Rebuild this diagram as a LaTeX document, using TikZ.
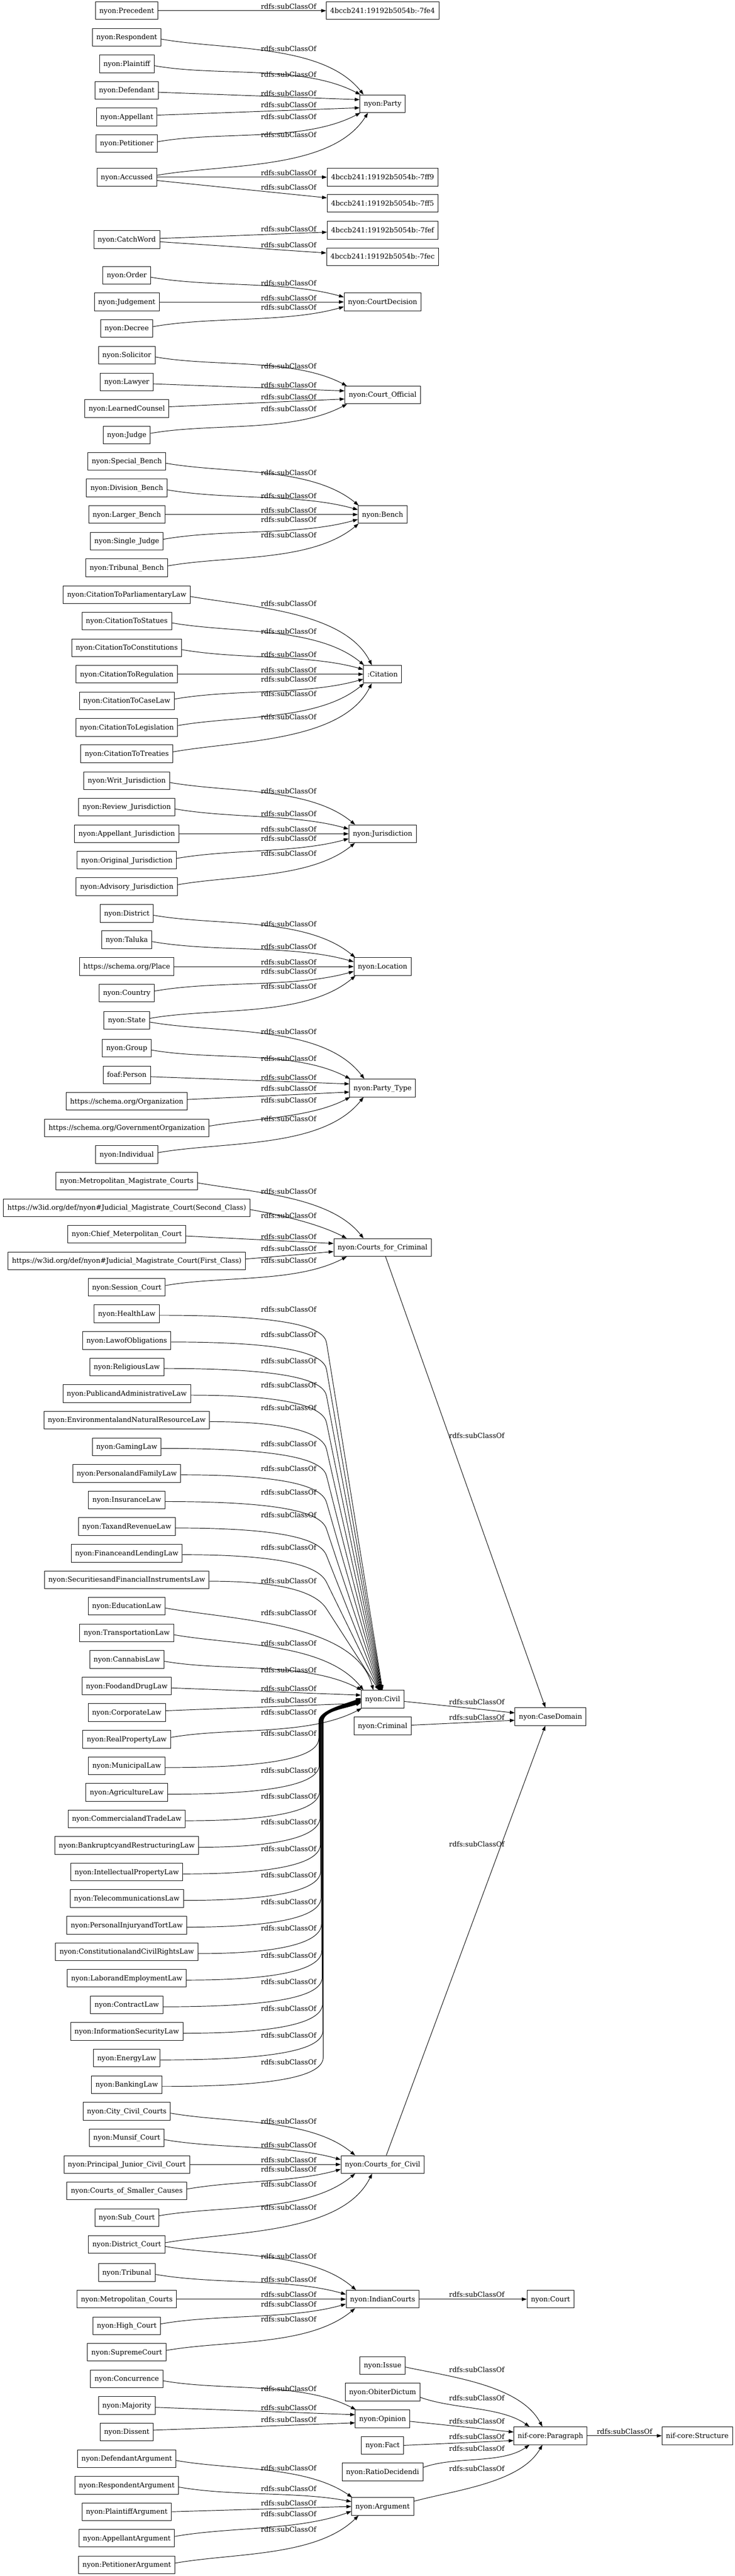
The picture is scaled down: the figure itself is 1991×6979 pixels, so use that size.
\documentclass[tikz,border=0pt]{standalone}
\usepackage{fontspec}
\setmainfont{DejaVu Serif}
\usetikzlibrary{arrows.meta,calc}
\newcommand\bodyfont{\fontsize{18.67}{22}\selectfont}
\tikzset{
  gbox/.style={draw,line width=1.33pt,rectangle,minimum height=48pt,minimum width=72pt,inner xsep=10.6pt,inner ysep=0pt,text height=14pt,text depth=2pt,font=\bodyfont},
  lbl/.style={inner sep=0pt,text height=14pt,text depth=2pt,font=\bodyfont},
  sarrow/.style={line width=1.33pt,-{Triangle[length=13.3pt,width=9.3pt]}},
}
% generic edge from left column to middle column
\newcommand\sedge[4]{%
  \pgfmathsetmacro\zA{abs(#3)}%
  \pgfmathsetmacro\zT{min(0.33*\zA-8,80)}%
  \pgfmathsetmacro\zIn{180-((#3>0)-(#3<0))*\zT}%
  \pgfmathsetmacro\zOut{10*(#3<0)-10*(#3>0)}%
  \pgfmathsetmacro\zF{max(97-(\zA-108)*0.63,25)}%
  \pgfmathsetmacro\zSo{5*(#3<0)-5*(#3>0)}%
  \pgfmathsetmacro\zEo{11*(#3>0)-11*(#3<0)}%
  \pgfmathsetmacro\zEm{13*(#3>0)-13*(#3<0)}%
  \ifdim\zA pt<20pt
    \draw[sarrow] (#1.east) -- (#2.west);
  \else\ifdim\zA pt<50pt
    \draw[sarrow] ($(#1.east)+(0,\zSo)$) -- ($(#2.west)+(0,\zEo)$);
  \else\ifdim\zA pt<95pt
    \draw[sarrow] ($(#1.east)+(0,\zSo)$) to[out=\zOut,in=\zIn,looseness=0.8] ($(#2.west)+(0,\zEm)$);
  \else
    \ifdim #3pt>0pt \def\zC{north west}\def\zD{north}\else\def\zC{south west}\def\zD{south}\fi
    \pgfpointanchor{#2}{\zC}\pgfgetlastxy{\zXa}{\zYa}%
    \pgfpointanchor{#2}{\zD}\pgfgetlastxy{\zXb}{\zYb}%
    \pgfmathsetmacro\zEx{max(\zXa+2,\zXb-\zF)}%
    \draw[sarrow] ($(#1.east)+(0,\zSo)$) to[out=\zOut,in=\zIn,looseness=0.8] (\zEx pt,\zYb);
  \fi\fi\fi
  \node[lbl] (L#1#2) at (782,-#4) {rdfs:subClassOf};%
}
% long edges from above into nyon:Civil
\newcommand\civup[3]{%
  \coordinate (cS) at ($(#1.east)+(0,-4)$);
  \coordinate (cE) at ($(civil.north)+(#2,0)$);
  \coordinate (cC) at ($(cS -| cvbend)+(0,-75)$);
  \draw[sarrow] (cS) .. controls (cS -| cvctl) and ($(cC)!-40pt!(cE)$) .. (cC) -- (cE);
  \node[lbl] (L#1civil) at (782,-#3) {rdfs:subClassOf};%
}
% long edges from below into nyon:Civil
\newcommand\civdn[4]{%
  \coordinate (cS) at ($(#1.east)+(0,-5)$);
  \coordinate (cC) at ($(cS -| zx)+(#2,80)$);
  \coordinate (cB) at ($(civil.west -| zx)+(#2,-60)$);
  \coordinate (cE) at ($(civil.west)+(0,#3)$);
  \draw[sarrow] (cS) .. controls ($(cS -| zx)+(#2-90,0)$) and ($(cC)!-45pt!(cB)$) .. (cC) -- (cB) .. controls ($(cB)!-30pt!(cC)$) and ($(cE)+(-40,-16)$) .. (cE);
  \node[lbl] (L#1civil) at (782,-#4) {rdfs:subClassOf};%
}
\begin{document}
\begin{tikzpicture}[x=1pt,y=1pt]
\fill[white] (0,0) rectangle (1991,-6979);
\useasboundingbox (0,0) rectangle (1991,-6979);
\coordinate (cvbend) at (885,0);
\coordinate (cvctl) at (800,0);
\coordinate (zx) at (0,0);
% ---------- left column ----------
\node[gbox] (precedent) at (343.5,-29) {nyon:Precedent};
\node[gbox] (respondent) at (343.5,-101) {nyon:Respondent};
\node[gbox] (plaintiff) at (343.5,-173) {nyon:Plaintiff};
\node[gbox] (defendant) at (343.5,-245) {nyon:Defendant};
\node[gbox] (appellant) at (343.5,-317) {nyon:Appellant};
\node[gbox] (petitioner) at (343.5,-389) {nyon:Petitioner};
\node[gbox] (accussed) at (343.5,-480) {nyon:Accussed};
\node[gbox] (catchword) at (343.5,-649) {nyon:CatchWord};
\node[gbox] (order) at (343.5,-746) {nyon:Order};
\node[gbox] (judgement) at (343.5,-818) {nyon:Judgement};
\node[gbox] (decree) at (343.5,-890) {nyon:Decree};
\node[gbox] (solicitor) at (343.5,-962) {nyon:Solicitor};
\node[gbox] (lawyer) at (343.5,-1035) {nyon:Lawyer};
\node[gbox] (learned) at (343.5,-1107) {nyon:LearnedCounsel};
\node[gbox] (judge) at (343.5,-1179) {nyon:Judge};
\node[gbox] (special) at (343.5,-1250) {nyon:Special\_Bench};
\node[gbox] (division) at (343.5,-1322) {nyon:Division\_Bench};
\node[gbox] (larger) at (343.5,-1394) {nyon:Larger\_Bench};
\node[gbox] (single) at (343.5,-1466) {nyon:Single\_Judge};
\node[gbox] (tribunalbench) at (343.5,-1538) {nyon:Tribunal\_Bench};
\node[gbox] (cparl) at (343.5,-1611) {nyon:CitationToParliamentaryLaw};
\node[gbox] (cstat) at (343.5,-1682.5) {nyon:CitationToStatues};
\node[gbox] (cconst) at (343.5,-1755) {nyon:CitationToConstitutions};
\node[gbox] (creg) at (343.5,-1826.7) {nyon:CitationToRegulation};
\node[gbox] (ccase) at (343.5,-1899) {nyon:CitationToCaseLaw};
\node[gbox] (cleg) at (343.5,-1970.7) {nyon:CitationToLegislation};
\node[gbox] (ctreat) at (343.5,-2042) {nyon:CitationToTreaties};
\node[gbox] (jwrit) at (343.5,-2115) {nyon:Writ\_Jurisdiction};
\node[gbox] (jrev) at (343.5,-2186.5) {nyon:Review\_Jurisdiction};
\node[gbox] (japp) at (343.5,-2259) {nyon:Appellant\_Jurisdiction};
\node[gbox] (jorig) at (343.5,-2330.6) {nyon:Original\_Jurisdiction};
\node[gbox] (jadv) at (343.5,-2402) {nyon:Advisory\_Jurisdiction};
\node[gbox] (district) at (343.5,-2474.6) {nyon:District};
\node[gbox] (taluka) at (343.5,-2546) {nyon:Taluka};
\node[gbox] (place) at (343.5,-2618.7) {https://schema.org/Place};
\node[gbox] (country) at (343.5,-2690) {nyon:Country};
\node[gbox] (state) at (343.5,-2764) {nyon:State};
\node[gbox] (group) at (343.5,-2839.7) {nyon:Group};
\node[gbox] (person) at (343.5,-2912) {foaf:Person};
\node[gbox] (org) at (343.5,-2983.8) {https://schema.org/Organization};
\node[gbox] (govorg) at (343.5,-3056) {https://schema.org/GovernmentOrganization};
\node[gbox] (individual) at (343.5,-3127.8) {nyon:Individual};
\node[gbox] (metromag) at (343.5,-3199.6) {nyon:Metropolitan\_Magistrate\_Courts};
\node[gbox] (jmctwo) at (343.5,-3272) {https://w3id.org/def/nyon\#Judicial\_Magistrate\_Court(Second\_Class)};
\node[gbox] (chief) at (343.5,-3343.6) {nyon:Chief\_Meterpolitan\_Court};
\node[gbox] (jmcone) at (343.5,-3416) {https://w3id.org/def/nyon\#Judicial\_Magistrate\_Court(First\_Class)};
\node[gbox] (session) at (343.5,-3487.7) {nyon:Session\_Court};
\node[gbox] (health) at (343.5,-3559.4) {nyon:HealthLaw};
\node[gbox] (obligations) at (343.5,-3631.8) {nyon:LawofObligations};
\node[gbox] (religious) at (343.5,-3703.5) {nyon:ReligiousLaw};
\node[gbox] (public) at (343.5,-3775.8) {nyon:PublicandAdministrativeLaw};
\node[gbox] (environmental) at (343.5,-3847.6) {nyon:EnvironmentalandNaturalResourceLaw};
\node[gbox] (gaming) at (343.5,-3920) {nyon:GamingLaw};
\node[gbox] (family) at (343.5,-3991.7) {nyon:PersonalandFamilyLaw};
\node[gbox] (insurance) at (343.5,-4064) {nyon:InsuranceLaw};
\node[gbox] (tax) at (343.5,-4135.7) {nyon:TaxandRevenueLaw};
\node[gbox] (finance) at (343.5,-4208) {nyon:FinanceandLendingLaw};
\node[gbox] (securities) at (343.5,-4279.8) {nyon:SecuritiesandFinancialInstrumentsLaw};
\node[gbox] (education) at (343.5,-4351.5) {nyon:EducationLaw};
\node[gbox] (transportation) at (343.5,-4423.9) {nyon:TransportationLaw};
\node[gbox] (cannabis) at (343.5,-4495.6) {nyon:CannabisLaw};
\node[gbox] (fooddrug) at (343.5,-4568) {nyon:FoodandDrugLaw};
\node[gbox] (corporate) at (343.5,-4639.7) {nyon:CorporateLaw};
\node[gbox] (realproperty) at (343.5,-4712) {nyon:RealPropertyLaw};
\node[gbox] (municipal) at (343.5,-4783.8) {nyon:MunicipalLaw};
\node[gbox] (agriculture) at (343.5,-4856) {nyon:AgricultureLaw};
\node[gbox] (commercial) at (343.5,-4927.8) {nyon:CommercialandTradeLaw};
\node[gbox] (bankruptcy) at (343.5,-4999.6) {nyon:BankruptcyandRestructuringLaw};
\node[gbox] (ip) at (343.5,-5071.9) {nyon:IntellectualPropertyLaw};
\node[gbox] (telecom) at (343.5,-5143.6) {nyon:TelecommunicationsLaw};
\node[gbox] (tort) at (343.5,-5216) {nyon:PersonalInjuryandTortLaw};
\node[gbox] (constitutional) at (343.5,-5287.7) {nyon:ConstitutionalandCivilRightsLaw};
\node[gbox] (labor) at (343.5,-5359.4) {nyon:LaborandEmploymentLaw};
\node[gbox] (contract) at (343.5,-5431.8) {nyon:ContractLaw};
\node[gbox] (infosec) at (343.5,-5503.5) {nyon:InformationSecurityLaw};
\node[gbox] (energy) at (343.5,-5575.8) {nyon:EnergyLaw};
\node[gbox] (banking) at (343.5,-5647.6) {nyon:BankingLaw};
\node[gbox] (city) at (343.5,-5720) {nyon:City\_Civil\_Courts};
\node[gbox] (munsif) at (343.5,-5791.7) {nyon:Munsif\_Court};
\node[gbox] (principal) at (343.5,-5864) {nyon:Principal\_Junior\_Civil\_Court};
\node[gbox] (smaller) at (343.5,-5935.7) {nyon:Courts\_of\_Smaller\_Causes};
\node[gbox] (subcourt) at (343.5,-6008) {nyon:Sub\_Court};
\node[gbox] (districtcourt) at (343.5,-6081) {nyon:District\_Court};
\node[gbox] (tribunal) at (343.5,-6156.7) {nyon:Tribunal};
\node[gbox] (metrocourts) at (343.5,-6229) {nyon:Metropolitan\_Courts};
\node[gbox] (highcourt) at (343.5,-6301) {nyon:High\_Court};
\node[gbox] (supremecourt) at (343.5,-6372.8) {nyon:SupremeCourt};
\node[gbox] (concurrence) at (343.5,-6445) {nyon:Concurrence};
\node[gbox] (majority) at (343.5,-6517) {nyon:Majority};
\node[gbox] (dissent) at (343.5,-6588.8) {nyon:Dissent};
\node[gbox] (defarg) at (343.5,-6661) {nyon:DefendantArgument};
\node[gbox] (resparg) at (343.5,-6733) {nyon:RespondentArgument};
\node[gbox] (plarg) at (343.5,-6804.8) {nyon:PlaintiffArgument};
\node[gbox] (apparg) at (343.5,-6876.7) {nyon:AppellantArgument};
\node[gbox] (petarg) at (343.5,-6949) {nyon:PetitionerArgument};
% ---------- middle column ----------
\node[gbox] (n7fe4) at (1036.8,-29) {4bccb241:19192b5054b:-7fe4};
\node[gbox] (party) at (1036.8,-281) {nyon:Party};
\node[gbox] (n7ff9) at (1036.8,-480) {4bccb241:19192b5054b:-7ff9};
\node[gbox] (n7ff5) at (1036.8,-551) {4bccb241:19192b5054b:-7ff5};
\node[gbox] (n7fef) at (1036.8,-624) {4bccb241:19192b5054b:-7fef};
\node[gbox] (n7fec) at (1036.8,-695.4) {4bccb241:19192b5054b:-7fec};
\node[gbox] (courtdecision) at (1036.8,-818) {nyon:CourtDecision};
\node[gbox] (courtofficial) at (1036.8,-1070) {nyon:Court\_Official};
\node[gbox] (bench) at (1036.8,-1394) {nyon:Bench};
\node[gbox] (citation) at (1036.8,-1826.7) {:Citation};
\node[gbox] (jurisdiction) at (1036.8,-2259) {nyon:Jurisdiction};
\node[gbox] (location) at (1036.8,-2618.7) {nyon:Location};
\node[gbox] (partytype) at (1036.8,-2947.6) {nyon:Party\_Type};
\node[gbox] (cfcrim) at (1036.8,-3379.8) {nyon:Courts\_for\_Criminal};
\node[gbox] (civil) at (1036.8,-4603.5) {nyon:Civil};
\node[gbox] (criminal) at (1036.8,-4675.8) {nyon:Criminal};
\node[gbox] (cfciv) at (1036.8,-5864) {nyon:Courts\_for\_Civil};
\node[gbox] (indian) at (1036.8,-6229) {nyon:IndianCourts};
\node[gbox] (issue) at (1036.8,-6409) {nyon:Issue};
\node[gbox] (obiter) at (1036.8,-6480.8) {nyon:ObiterDictum};
\node[gbox] (opinion) at (1036.8,-6553) {nyon:Opinion};
\node[gbox] (fact) at (1036.8,-6625) {nyon:Fact};
\node[gbox] (ratio) at (1036.8,-6696.8) {nyon:RatioDecidendi};
\node[gbox] (argument) at (1036.8,-6790.5) {nyon:Argument};
% ---------- right columns ----------
\node[gbox] (casedomain) at (1491.8,-4650.6) {nyon:CaseDomain};
\node[gbox] (court) at (1491.8,-6229) {nyon:Court};
\node[gbox] (para) at (1491.8,-6599) {nif-core:Paragraph};
\node[gbox] (structure) at (1889.5,-6599) {nif-core:Structure};
% ---------- edges ----------
\draw[sarrow] (precedent.east) -- (n7fe4.west);
\node[lbl] (Lprec) at (782,-18.7) {rdfs:subClassOf};
\sedge{respondent}{party}{180}{132.6}
\sedge{plaintiff}{party}{108}{202.2}
\sedge{defendant}{party}{36}{254.4}
\sedge{appellant}{party}{-36}{284.4}
\sedge{petitioner}{party}{-108}{317.4}
\sedge{accussed}{party}{-199}{366}
\draw[sarrow] (accussed.east) -- (n7ff9.west);
\node[lbl] (Laccone) at (782,-469.2) {rdfs:subClassOf};
\draw[sarrow] ($(accussed.east)+(0,-9)$) -- ($(n7ff5.west)+(0,15)$);
\node[lbl] (Lacctwo) at (782,-508) {rdfs:subClassOf};
\draw[sarrow] ($(catchword.east)+(0,3)$) -- ($(n7fef.west)+(0,-5)$);
\node[lbl] (Lcwone) at (782,-621) {rdfs:subClassOf};
\draw[sarrow] ($(catchword.east)+(0,-6)$) -- ($(n7fec.west)+(0,10)$);
\node[lbl] (Lcwtwo) at (782,-664.7) {rdfs:subClassOf};
\sedge{order}{courtdecision}{72}{768}
\sedge{judgement}{courtdecision}{0}{808}
\sedge{decree}{courtdecision}{-72}{833}
\sedge{solicitor}{courtofficial}{108}{992}
\sedge{lawyer}{courtofficial}{35}{1044}
\sedge{learned}{courtofficial}{-37}{1076.5}
\sedge{judge}{courtofficial}{-109}{1109}
\sedge{special}{bench}{144}{1281}
\sedge{division}{bench}{72}{1344}
\sedge{larger}{bench}{0}{1384}
\sedge{single}{bench}{-72}{1408.7}
\sedge{tribunalbench}{bench}{-144}{1450}
\sedge{cparl}{citation}{215.7}{1636}
\sedge{cstat}{citation}{144.2}{1712}
\sedge{cconst}{citation}{71.7}{1774}
\sedge{creg}{citation}{0}{1815.7}
\sedge{ccase}{citation}{-72.3}{1841}
\sedge{cleg}{citation}{-144}{1880.6}
\sedge{ctreat}{citation}{-215.3}{1943.7}
\sedge{jwrit}{jurisdiction}{144}{2144}
\sedge{jrev}{jurisdiction}{72.5}{2205.5}
\sedge{japp}{jurisdiction}{0}{2248}
\sedge{jorig}{jurisdiction}{-71.6}{2273}
\sedge{jadv}{jurisdiction}{-143}{2313}
\sedge{district}{location}{144}{2504}
\sedge{taluka}{location}{72.7}{2566}
\sedge{place}{location}{0}{2607}
\sedge{country}{location}{-71.3}{2633}
\sedge{state}{location}{-145.3}{2672.6}
\sedge{state}{partytype}{183.6}{2796.6}
\sedge{group}{partytype}{108}{2869}
\sedge{person}{partytype}{35.6}{2920}
\sedge{org}{partytype}{-36.2}{2950}
\sedge{govorg}{partytype}{-108.4}{2982}
\sedge{individual}{partytype}{-180.2}{3032}
\sedge{metromag}{cfcrim}{180.2}{3229}
\sedge{jmctwo}{cfcrim}{107.8}{3295}
\sedge{chief}{cfcrim}{36.2}{3351.7}
\sedge{jmcone}{cfcrim}{-36.2}{3383.8}
\sedge{session}{cfcrim}{-107.9}{3416}
% civil
\civup{health}{0}{3548.5}
\civup{obligations}{-1}{3617.4}
\civup{religious}{-2}{3688}
\civup{public}{-3}{3754}
\civup{environmental}{-4}{3815.5}
\civup{gaming}{-5}{3912}
\civup{family}{-6}{3979.6}
\civup{insurance}{-7}{4044.5}
\civup{tax}{-8}{4104.7}
\civup{finance}{-9}{4192.6}
\civup{securities}{-10}{4283.8}
\sedge{education}{civil}{252}{4370}
\sedge{transportation}{civil}{179.6}{4452.6}
\sedge{cannabis}{civil}{107.9}{4525}
\sedge{fooddrug}{civil}{35.5}{4576}
\sedge{corporate}{civil}{-36.2}{4608}
\sedge{realproperty}{civil}{-108.5}{4640}
\civdn{municipal}{864}{3}{4697}
\civdn{agriculture}{865}{2}{4797}
\civdn{commercial}{866}{1}{4867.6}
\civdn{bankruptcy}{867}{0}{4937.6}
\civdn{ip}{868}{-1}{5010}
\civdn{telecom}{869}{-2}{5081}
\civdn{tort}{870}{-3}{5154}
\civdn{constitutional}{871}{-4}{5225}
\civdn{labor}{872}{-5}{5298}
\civdn{contract}{873}{-6}{5370}
\civdn{infosec}{874}{-7}{5442}
\civdn{energy}{875}{-8}{5515}
\civdn{banking}{876}{-9}{5588}
% case domain
\draw[sarrow] ($(civil.east)+(0,-6)$) -- ($(casedomain.west)+(0,10)$);
\node[lbl] (Lcivilcd) at (1292,-4612) {rdfs:subClassOf};
\draw[sarrow] ($(criminal.east)+(0,2)$) -- ($(casedomain.west)+(0,-10)$);
\node[lbl] (Lcrimcd) at (1292,-4653.5) {rdfs:subClassOf};
\draw[sarrow] ($(cfcrim.south)+(8,0)$) -- ($(casedomain.north)+(-14,0)$);
\node[lbl] (Lcfcrimcd) at (1292,-3890) {rdfs:subClassOf};
\draw[sarrow] ($(cfciv.north)+(10,0)$) -- ($(casedomain.south)+(-14,0)$);
\node[lbl] (Lcfcivcd) at (1292,-4996.7) {rdfs:subClassOf};
% civil courts
\sedge{city}{cfciv}{144}{5748.6}
\sedge{munsif}{cfciv}{72.3}{5811.7}
\sedge{principal}{cfciv}{0}{5852.5}
\sedge{smaller}{cfciv}{-71.7}{5878}
\sedge{subcourt}{cfciv}{-144}{5918}
\sedge{districtcourt}{cfciv}{-217}{5981}
\sedge{districtcourt}{indian}{148}{6113.6}
\sedge{tribunal}{indian}{72.3}{6176.7}
\sedge{metrocourts}{indian}{0}{6217}
\sedge{highcourt}{indian}{-72}{6243.5}
\sedge{supremecourt}{indian}{-143.8}{6283.5}
\draw[sarrow] (indian.east) -- (court.west);
\node[lbl] (Lindiancourt) at (1292,-6217) {rdfs:subClassOf};
% opinion / argument
\sedge{concurrence}{opinion}{108}{6472.7}
\sedge{majority}{opinion}{36}{6524.5}
\sedge{dissent}{opinion}{-35.8}{6556}
\sedge{defarg}{argument}{129.5}{6687.5}
\sedge{resparg}{argument}{57.5}{6743.7}
\sedge{plarg}{argument}{-14.3}{6781.7}
\sedge{apparg}{argument}{-86.2}{6811.7}
\sedge{petarg}{argument}{-158.5}{6853.6}
% paragraph
\draw[sarrow] ($(issue.east)+(0,-4)$) to[out=-12,in=118,looseness=0.8] ($(para.north)+(-22,0)$);
\node[lbl] (Lissue) at (1292,-6420.8) {rdfs:subClassOf};
\draw[sarrow] ($(obiter.east)+(0,-14)$) to[out=-20,in=145,looseness=0.8] ($(para.north west)+(43,0)$);
\node[lbl] (Lobiter) at (1292,-6498) {rdfs:subClassOf};
\draw[sarrow] ($(opinion.east)+(0,-7)$) -- ($(para.west)+(0,10)$);
\node[lbl] (Lopinion) at (1292,-6560.7) {rdfs:subClassOf};
\draw[sarrow] (fact.east) -- ($(para.west)+(0,-13)$);
\node[lbl] (Lfact) at (1292,-6602) {rdfs:subClassOf};
\draw[sarrow] ($(ratio.east)+(0,12)$) to[out=20,in=215,looseness=0.8] ($(para.south west)+(43,0)$);
\node[lbl] (Lratio) at (1292,-6634) {rdfs:subClassOf};
\draw[sarrow] ($(argument.east)+(0,14)$) to[out=15,in=240,looseness=0.8] ($(para.south)+(-22,0)$);
\node[lbl] (Largument) at (1292,-6688.7) {rdfs:subClassOf};
\draw[sarrow] (para.east) -- (structure.west);
\node[lbl] (Lpara) at (1692.5,-6588.8) {rdfs:subClassOf};
\end{tikzpicture}
\end{document}
